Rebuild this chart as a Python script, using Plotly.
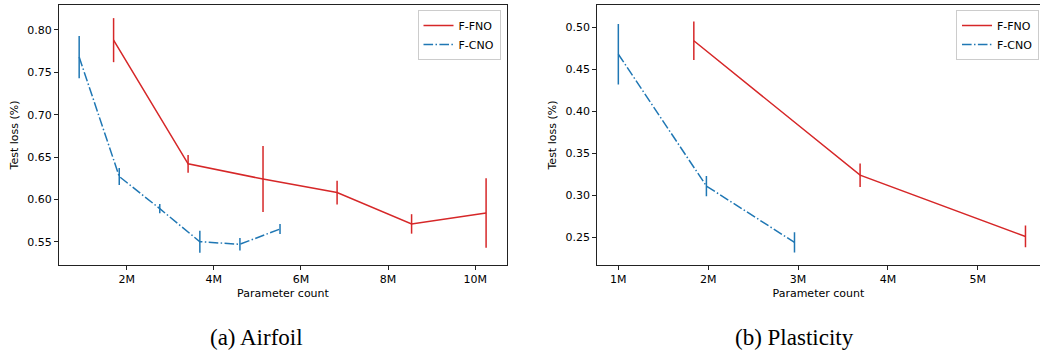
import plotly.graph_objects as go

# ---- data (parameter counts in millions, test loss in %) ----
airfoil_fno_params = [1.70, 3.41, 5.13, 6.83, 8.54, 10.25]
airfoil_fno_loss = [0.788, 0.642, 0.624, 0.608, 0.571, 0.584]
airfoil_fno_err = [0.026, 0.0105, 0.039, 0.014, 0.0115, 0.041]

airfoil_cno_params = [0.91, 1.83, 2.76, 3.68, 4.60, 5.52]
airfoil_cno_loss = [0.768, 0.627, 0.589, 0.550, 0.547, 0.565]
airfoil_cno_err = [0.025, 0.010, 0.0055, 0.013, 0.0075, 0.006]

plast_fno_params = [1.84, 3.69, 5.53]
plast_fno_loss = [0.484, 0.324, 0.251]
plast_fno_err = [0.023, 0.014, 0.013]

plast_cno_params = [1.00, 1.98, 2.96]
plast_cno_loss = [0.468, 0.311, 0.244]
plast_cno_err = [0.036, 0.012, 0.012]

airfoil_xticks = [2, 4, 6, 8, 10]
airfoil_xlabels = ["2M", "4M", "6M", "8M", "10M"]
plast_xticks = [1, 2, 3, 4, 5]
plast_xlabels = ["1M", "2M", "3M", "4M", "5M"]
airfoil_yticks = [0.55, 0.60, 0.65, 0.70, 0.75, 0.80]
plast_yticks = [0.25, 0.30, 0.35, 0.40, 0.45, 0.50]

series_names = ["F-FNO", "F-CNO"]
captions = ["(a) Airfoil", "(b) Plasticity"]
x_title = "Parameter count"
y_title = "Test loss (%)"

RED = "#d62728"
BLUE = "#1f77b4"
DASHDOT = "9.6px,2.4px,1.5px,2.4px"
W, H = 1040, 351

fig = go.Figure()

def add(x, y, e, name, color, dash, xa, ya, legend):
    fig.add_trace(go.Scatter(
        x=x, y=y, mode="lines", name=name,
        line=dict(color=color, width=1.5, dash=dash),
        error_y=dict(type="data", array=e, visible=True, color=color,
                     thickness=1.5, width=0),
        xaxis=xa, yaxis=ya, legend=legend, showlegend=True))

add(airfoil_fno_params, airfoil_fno_loss, airfoil_fno_err, series_names[0], RED, "solid", "x", "y", "legend")
add(airfoil_cno_params, airfoil_cno_loss, airfoil_cno_err, series_names[1], BLUE, DASHDOT, "x", "y", "legend")
add(plast_fno_params, plast_fno_loss, plast_fno_err, series_names[0], RED, "solid", "x2", "y2", "legend2")
add(plast_cno_params, plast_cno_loss, plast_cno_err, series_names[1], BLUE, DASHDOT, "x2", "y2", "legend2")

font = dict(family="DejaVu Sans", size=11, color="#000000")
axis_common = dict(showline=True, linecolor="#222222", linewidth=1, mirror=True,
                   ticks="outside", ticklen=4, tickwidth=1, tickcolor="#222222",
                   showgrid=False, zeroline=False, tickfont=font)

ytop = 1 - 5 / H
ybot = 1 - 265 / H
cap_font = dict(family="Liberation Serif", size=23, color="#000000")

fig.update_layout(
    width=W, height=H,
    margin=dict(l=0, r=0, t=0, b=0),
    paper_bgcolor="white", plot_bgcolor="white",
    font=font,
    xaxis=dict(domain=[59 / W, 507 / W], range=[0.447, 10.73],
               tickmode="array", tickvals=airfoil_xticks, ticktext=airfoil_xlabels,
               title=dict(text=x_title, font=font, standoff=4), anchor="y", **axis_common),
    yaxis=dict(domain=[ybot, ytop], range=[0.5225, 0.8295],
               tickmode="array", tickvals=airfoil_yticks, tickformat=".2f",
               title=dict(text=y_title, font=font, standoff=6), anchor="x", **axis_common),
    xaxis2=dict(domain=[597.3 / W, 1039.5 / W], range=[0.766, 5.686],
                tickmode="array", tickvals=plast_xticks, ticktext=plast_xlabels,
                title=dict(text=x_title, font=font, standoff=4), anchor="y2", **axis_common),
    yaxis2=dict(domain=[ybot, ytop], range=[0.217, 0.5266],
                tickmode="array", tickvals=plast_yticks, tickformat=".2f",
                title=dict(text=y_title, font=font, standoff=6), anchor="x2", **axis_common),
    legend=dict(x=500.5 / W, y=1 - 10 / H, xanchor="right", yanchor="top",
                bgcolor="rgba(255,255,255,0.8)", bordercolor="#cccccc", borderwidth=1,
                font=font, tracegroupgap=0),
    legend2=dict(x=1039 / W, y=1 - 10 / H, xanchor="right", yanchor="top",
                 bgcolor="rgba(255,255,255,0.8)", bordercolor="#cccccc", borderwidth=1,
                 font=font, tracegroupgap=0),
    annotations=[
        dict(text=captions[0], x=256 / W, y=1 - 337 / H, xref="paper", yref="paper",
             showarrow=False, xanchor="center", yanchor="middle", font=cap_font),
        dict(text=captions[1], x=794 / W, y=1 - 337 / H, xref="paper", yref="paper",
             showarrow=False, xanchor="center", yanchor="middle", font=cap_font),
    ],
)

fig.write_html("out.html",
               config={"displayModeBar": False},
               post_script="document.body.style.margin='0';document.body.style.padding='0';"
                           "document.body.style.overflow='hidden';")
